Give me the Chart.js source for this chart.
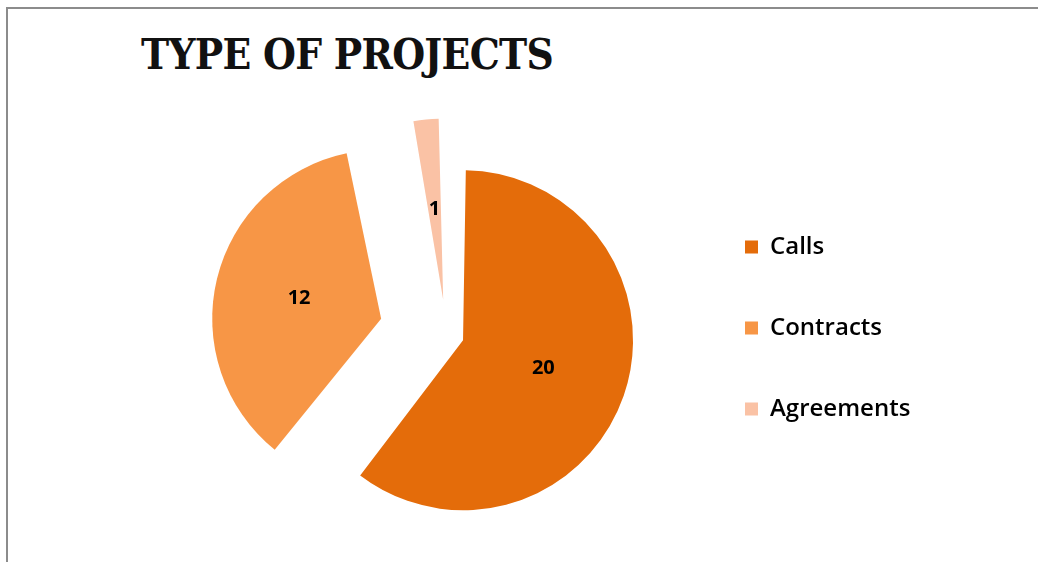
<!DOCTYPE html>
<html>
<head>
<meta charset="utf-8">
<title>Type of projects</title>
<script src="https://cdn.jsdelivr.net/npm/chart.js@4/dist/chart.umd.min.js"></script>
<style>
    html, body { margin: 0; padding: 0; background: #fff; }
    #wrap { position: relative; width: 1038px; height: 562px; overflow: hidden; }
    #frame { position: absolute; left: 6px; top: 7px; right: -10px; bottom: -10px;
             border-top: 2px solid #8c8c8c; border-left: 2px solid #8c8c8c; }
    #title { position: absolute; left: 141px; top: 34px; margin: 0;
             font: bold 42px/1 "DejaVu Serif Condensed", "DejaVu Serif", serif;
             letter-spacing: -0.7px; color: #111; white-space: nowrap; }
    #chart { position: absolute; left: 0; top: 0; }
</style>
</head>
<body>
<div id="wrap">
    <div id="frame"></div>
    <h1 id="title">TYPE OF PROJECTS</h1>
    <canvas id="chart" width="1038" height="562"></canvas>
</div>
<script>
// --- datos ---
const categories = ['Calls', 'Contracts', 'Agreements'];
const values = [20, 12, 1];

// --- estilo ---
const sliceColors = ['#e46c0a', '#f79646', '#fac2a5'];
const explode = [70, 269, 140]; // separación de cada porción (offset de Chart.js)
const FONT_SANS = '"Open Sans", "Noto Sans", sans-serif';
const LEGEND_FONT = { family: FONT_SANS, size: 24, weight: '600' };
const LEGEND_PAD = 57;
const LEGEND_BOX = 13;
const LEGEND_LEFT = 688; // borde izquierdo de la leyenda

// Ancho de la leyenda, para dejar el centro del pastel donde corresponde
function legendWidth() {
    const ctx = document.createElement('canvas').getContext('2d');
    ctx.font = `${LEGEND_FONT.weight} ${LEGEND_FONT.size}px ${LEGEND_FONT.family}`;
    const widest = Math.max(...categories.map(c => ctx.measureText(c).width));
    return LEGEND_PAD + LEGEND_BOX + LEGEND_FONT.size / 2 + widest + 10;
}

// Etiquetas con el valor dentro de cada porción
const sliceLabels = {
    id: 'sliceLabels',
    afterDatasetsDraw(chart) {
        const { ctx } = chart;
        const meta = chart.getDatasetMeta(0);
        ctx.save();
        ctx.font = `bold 20px ${FONT_SANS}`;
        ctx.fillStyle = '#000';
        ctx.textAlign = 'center';
        ctx.textBaseline = 'middle';
        meta.data.forEach((arc, i) => {
            const { x, y, startAngle, endAngle, outerRadius, circumference } =
                arc.getProps(['x', 'y', 'startAngle', 'endAngle', 'outerRadius', 'circumference'], true);
            const mid = (startAngle + endAngle) / 2;
            const shift = (arc.options.offset || 0) / 4;
            const radius = outerRadius + shift * (1 - Math.sin(Math.min(Math.PI, circumference)));
            const dist = shift + radius / 2;
            ctx.fillText(String(values[i]), x + Math.cos(mid) * dist, y + Math.sin(mid) * dist);
        });
        ctx.restore();
    }
};

const canvas = document.getElementById('chart');
const padRight = canvas.width - LEGEND_LEFT - legendWidth();

new Chart(canvas, {
    type: 'pie',
    data: {
        labels: categories,
        datasets: [{
            data: values,
            backgroundColor: sliceColors,
            borderWidth: 0,
            offset: explode,
            hoverOffset: 0,
            radius: 152.5
        }]
    },
    options: {
        responsive: false,
        animation: false,
        events: [],
        layout: { padding: { left: 205, right: padRight, top: 178, bottom: 71 } },
        plugins: {
            title: { display: false },
            tooltip: { enabled: false },
            legend: {
                position: 'right',
                align: 'start',
                labels: {
                    boxWidth: LEGEND_BOX,
                    boxHeight: LEGEND_BOX,
                    padding: LEGEND_PAD,
                    color: '#000',
                    font: LEGEND_FONT
                }
            }
        }
    },
    plugins: [sliceLabels]
});
</script>
</body>
</html>
